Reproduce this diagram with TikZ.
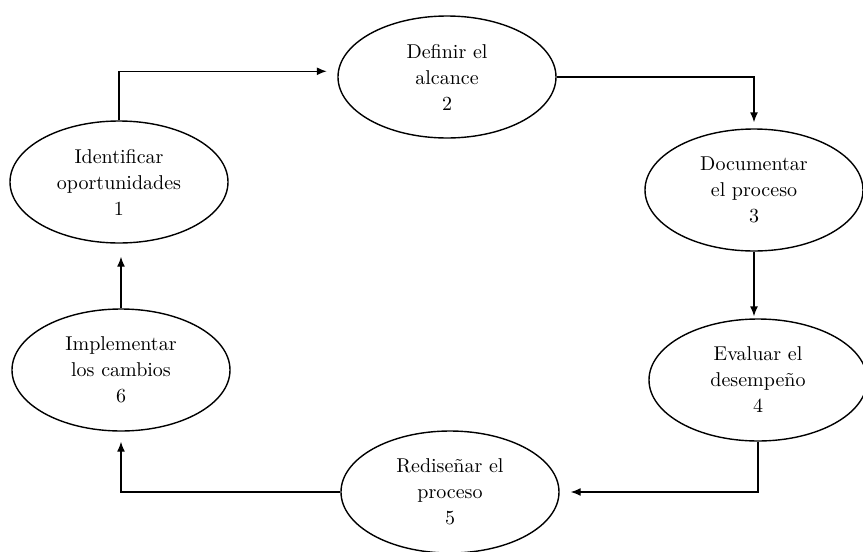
\documentclass[tikz,border=0pt]{standalone}
\usepackage{tikz}
\usetikzlibrary{arrows.meta, shapes.geometric}

\begin{document}
\begin{tikzpicture}[x=0.5pt, y=-0.5pt, -{Latex[length=5pt, width=4pt]}, line width=0.7pt,
      every node/.append style={font=\fontsize{10}{13}\selectfont, align=center},
      every ellipse node/.append style={draw, minimum width=109pt, minimum height=61pt, inner sep=0pt}]
    \useasboundingbox (0,0) rectangle (863,552);
    \node (ident) [ellipse] at (119,182) {Identificar\\oportunidades\\1};
    \node (alcance) [ellipse, minimum height=62pt] at (447,77) {Definir el\\alcance\\2};
    \node (docu) [ellipse, minimum width=106pt, minimum height=62pt] at (754,190) {Documentar\\el proceso\\3};
    \node (evaluar) [ellipse, minimum width=101pt] at (758,380) {Evaluar el\\desempeño\\4};
    \node (redis) [ellipse, minimum height=57pt] at (450,492) {Rediseñar el\\proceso\\5};
    \node (implem) [ellipse, minimum height=62pt] at (121,370) {Implementar\\los cambios\\6};
    \draw[shorten >=5.5pt] (ident.north) |- (alcance.177);
    \draw[shorten >=3pt] (alcance.east) -| (docu.north);
    \draw[shorten >=1pt] (docu.south) -- (docu.south |- evaluar.north);
    \draw[shorten >=5.5pt] (evaluar.south) |- (redis.east);
    \draw[shorten >=5pt] (redis.west) -| (implem.south);
    \draw[shorten >=6.5pt] (implem.north) -- (implem.north |- ident.south);
  \end{tikzpicture}
\end{document}
